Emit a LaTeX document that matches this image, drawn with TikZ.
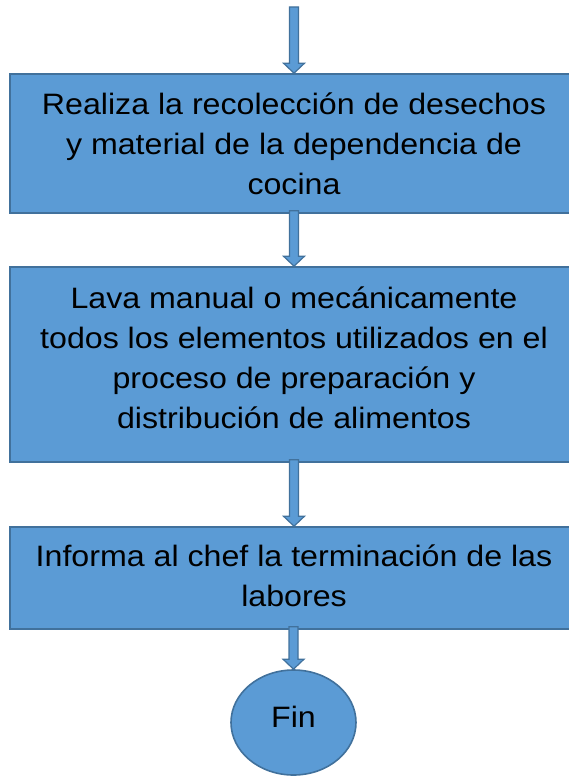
\documentclass[tikz,border=0pt]{standalone}
\usepackage{fontspec}
\setmainfont{Liberation Sans}[FakeStretch=1.09]
\usetikzlibrary{calc,shapes.geometric}
\definecolor{boxfill}{HTML}{5B9BD5}
\definecolor{boxline}{HTML}{41719C}
\newcommand\blkarrow[2]{%
  \draw[arrowline] ($(#2 |- #1)+(-4.5,-3)$) -- ($(#2)+(-4.5,-10)$) -- ($(#2)+(-10.5,-10)$) -- (#2)
    -- ($(#2)+(10.5,-10)$) -- ($(#2)+(4.5,-10)$) -- ($(#2 |- #1)+(4.5,-3)$) -- cycle;}
\begin{document}
\begin{tikzpicture}[x=1pt,y=-1pt,
  stepbox/.style={rectangle, draw=boxline, fill=boxfill, line width=1.6pt,
    minimum width=568pt, inner sep=0pt, align=center,
    font=\fontsize{29.5}{40}\selectfont},
  endnode/.style={ellipse, draw=boxline, fill=boxfill, line width=1.6pt,
    minimum width=125pt, minimum height=105pt, inner sep=0pt,
    font=\fontsize{29.5}{40}\selectfont},
  arrowline/.style={draw=boxline, fill=boxfill, line width=1.2pt, line join=miter}]
\useasboundingbox (0,0) rectangle (569,778);
\clip (0,0) rectangle (569,778);
\coordinate (start) at (294,10);
\node[stepbox, minimum height=139pt] (b1) at (294,143.5)
  {\rule{0pt}{30pt}Realiza la recolección de desechos\\y material de la dependencia de\\cocina\rule[-9pt]{0pt}{9pt}};
\node[stepbox, minimum height=195pt] (b2) at (294,364.5)
  {\rule{0pt}{30pt}Lava manual o mecánicamente\\todos los elementos utilizados en el\\proceso de preparación y\\distribución de alimentos\rule[-23pt]{0pt}{23pt}};
\node[stepbox, minimum height=102pt] (b3) at (294,578)
  {\rule{0pt}{30pt}Informa al chef la terminación de las\\labores\rule[-13pt]{0pt}{13pt}};
\node[endnode] (fin) at (293.5,722.5) {Fin\rule[-12pt]{0pt}{12pt}};
\blkarrow{start}{b1.north}
\blkarrow{b1.south}{b2.north}
\blkarrow{b2.south}{b3.north}
\blkarrow{b3.south}{fin.north}
\end{tikzpicture}
\end{document}
